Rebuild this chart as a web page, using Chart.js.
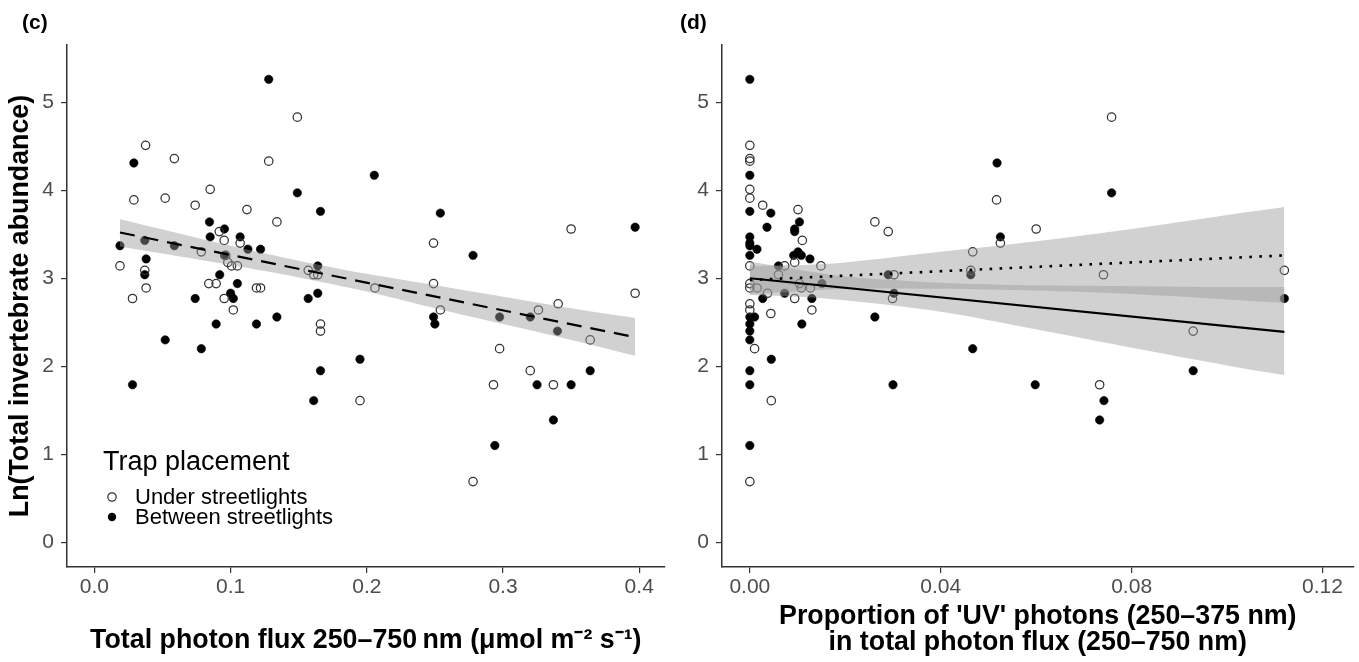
<!DOCTYPE html>
<html><head><meta charset="utf-8">
<script src="https://cdn.jsdelivr.net/npm/chart.js@4.4.1/dist/chart.umd.min.js"></script>
<style>
html,body{margin:0;padding:0;background:#fff;}
#wrap{position:relative;width:1359px;height:662px;overflow:hidden;background:#fff;}
.panel{position:absolute;top:0;height:662px;}
#pc{left:0;width:670px;}
#pd{left:670px;width:689px;}
</style></head><body>
<div id="wrap">
  <div class="panel" id="pc"><canvas id="cc"></canvas></div>
  <div class="panel" id="pd"><canvas id="cd"></canvas></div>
</div>
<script>
// ---------- DATA ----------
// Panel (c): total photon flux vs Ln(abundance)
const cUnderX = [0.149,0.0376,0.0587,0.128,0.085,0.029,0.052,0.074,0.112,0.134,0.0917,0.0953,0.107,0.0785,0.0965,0.098,0.1007,0.105,0.0188,0.037,0.157,0.161,0.164,0.084,0.0894,0.038,0.119,0.122,0.028,0.0953,0.102,0.166,0.166,0.195,0.249,0.206,0.249,0.254,0.326,0.3405,0.397,0.35,0.364,0.2975,0.32,0.293,0.337,0.278];
const cUnderY = [4.83,4.51,4.36,4.33,4.01,3.89,3.91,3.83,3.78,3.64,3.53,3.43,3.40,3.30,3.26,3.18,3.14,3.14,3.14,3.09,3.09,3.04,3.04,2.94,2.94,2.89,2.89,2.89,2.77,2.77,2.64,2.48,2.40,1.61,3.40,2.89,2.94,2.64,2.64,2.71,2.83,3.56,2.30,2.20,1.95,1.79,1.79,0.69];
const cBetweenX = [0.128,0.029,0.149,0.166,0.0845,0.0955,0.085,0.107,0.037,0.0188,0.0587,0.1127,0.122,0.0955,0.038,0.037,0.092,0.164,0.105,0.1,0.164,0.074,0.102,0.157,0.0894,0.119,0.134,0.052,0.0785,0.166,0.028,0.161,0.195,0.2055,0.254,0.278,0.397,0.249,0.25,0.2975,0.32,0.34,0.364,0.325,0.35,0.337,0.294];
const cBetweenY = [5.26,4.31,3.97,3.76,3.64,3.56,3.47,3.47,3.43,3.37,3.37,3.33,3.33,3.26,3.22,3.04,3.04,3.14,2.94,2.83,2.83,2.77,2.77,2.77,2.48,2.48,2.56,2.30,2.20,1.95,1.79,1.61,2.08,4.17,3.74,3.26,3.58,2.56,2.48,2.56,2.56,2.40,1.95,1.79,1.79,1.39,1.10];
const cFitX = [0.0188, 0.397];
const cFitY = [3.52, 2.33];
const cBandX  = [0.0188,0.1,0.15,0.2,0.25,0.3,0.35,0.397];
const cBandLo = [3.36,3.15,3.01,2.85,2.66,2.48,2.30,2.12];
const cBandHi = [3.67,3.37,3.20,3.05,2.92,2.79,2.66,2.55];

// Panel (d): proportion of UV photons vs Ln(abundance)
const dUnderX = [0,0,0,0,0,0.0027,0.0101,0.011,0.0094,0.0073,0.0149,0,0.006,0,0,0.0015,0.0104,0.0108,0.0127,0.0037,0.0094,0.013,0,0,0.0044,0.001,0.0045,0,0.0262,0.029,0.0517,0.0525,0.06,0.0467,0.0302,0.0463,0.0299,0.0758,0.0741,0.112,0.0929,0.0733];
const dUnderY = [4.51,4.36,4.33,4.01,3.91,3.83,3.78,3.43,3.18,3.14,3.14,3.14,3.04,2.94,2.89,2.89,2.94,2.89,2.89,2.83,2.77,2.64,2.71,2.64,2.60,2.20,1.61,0.69,3.64,3.53,3.89,3.40,3.56,3.30,3.04,3.09,2.77,4.83,3.04,3.09,2.40,1.79];
const dBetweenX = [0,0,0,0.0044,0.0104,0.0036,0.0094,0.0094,0,0,0,0.0015,0,0.0092,0.0101,0.0108,0.0126,0.006,0.0151,0.0027,0.0073,0.013,0,0.001,0,0,0,0.0109,0.0045,0,0,0,0.0518,0.0525,0.029,0.0463,0.0302,0.0262,0.0467,0.03,0.0758,0.112,0.0929,0.0598,0.0742,0.0733];
const dBetweenY = [5.26,4.17,3.76,3.74,3.64,3.58,3.56,3.53,3.47,3.40,3.37,3.33,3.26,3.26,3.30,3.26,3.22,3.14,2.94,2.77,2.83,2.77,2.56,2.56,2.48,2.40,2.30,2.48,2.08,1.95,1.79,1.10,4.31,3.47,3.04,3.04,2.83,2.56,2.20,1.79,3.97,2.77,1.95,1.79,1.61,1.39];
const dUnderFitX = [0, 0.112];
const dUnderFitY = [2.98, 3.26];
const dUnderBandX  = [0,0.01,0.02,0.04,0.06,0.08,0.1,0.112];
const dUnderBandLo = [2.82,2.85,2.88,2.88,2.86,2.82,2.76,2.72];
const dUnderBandHi = [3.14,3.15,3.18,3.30,3.42,3.56,3.72,3.81];
const dBetweenFitX = [0, 0.112];
const dBetweenFitY = [3.00, 2.39];
const dBetweenBandX  = [0,0.01,0.02,0.04,0.06,0.08,0.1,0.112];
const dBetweenBandLo = [2.81,2.79,2.75,2.62,2.42,2.21,2.01,1.90];
const dBetweenBandHi = [3.19,3.10,3.02,2.95,2.92,2.91,2.90,2.90];

// Tick labels
const cXTicks = [0, 0.1, 0.2, 0.3, 0.4];
const dXTicks = [0, 0.04, 0.08, 0.12];
const yTicks  = [0, 1, 2, 3, 4, 5];

const legendTitle = 'Trap placement';
const groupNames = ['Under streetlights', 'Between streetlights'];
const yTitle = 'Ln(Total invertebrate abundance)';
const cXTitle = 'Total photon flux 250\u2013750\u2009nm (\u03bcmol m\u207b\u00b2 s\u207b\u00b9)';
const dXTitle = ["Proportion of 'UV' photons (250\u2013375 nm)", 'in total photon flux (250\u2013750 nm)'];

// ---------- RENDERING ----------
const FONT = "'Liberation Sans', Arial, Helvetica, sans-serif";
const pts = (xs, ys) => xs.map((x, i) => ({x: x, y: ys[i]}));
const BAND = 'rgba(153,153,153,0.45)';
const TITLE_SIZE = 26.8;

function openPts(xs, ys) {
  return {type: 'scatter', label: groupNames[0], data: pts(xs, ys), order: 3,
    pointStyle: 'circle', pointRadius: 4.2, pointBorderWidth: 1.25,
    pointBorderColor: '#333', pointBackgroundColor: 'rgba(255,255,255,0)'};
}
function filledPts(xs, ys) {
  return {type: 'scatter', label: groupNames[1], data: pts(xs, ys), order: 3,
    pointStyle: 'circle', pointRadius: 4.2, pointBorderWidth: 0.6,
    pointBorderColor: '#000', pointBackgroundColor: '#000'};
}
function bandPair(xs, lo, hi) {
  return [
    {type: 'line', label: 'band-hi', data: pts(xs, hi), order: 2, borderWidth: 0,
      pointRadius: 0, fill: '+1', backgroundColor: BAND, tension: 0.3},
    {type: 'line', label: 'band-lo', data: pts(xs, lo), order: 2, borderWidth: 0,
      pointRadius: 0, fill: false, tension: 0.3}
  ];
}
function fitLine(xs, ys, dash, width) {
  return {type: 'line', label: 'fit', data: pts(xs, ys), order: 1, borderColor: '#000',
    borderWidth: width, borderDash: dash, borderCapStyle: 'butt', pointRadius: 0, fill: false};
}

const overlay = {
  id: 'overlay',
  afterDraw(chart, args, o) {
    const ctx = chart.ctx;
    const a = chart.chartArea;
    ctx.save();
    ctx.fillStyle = '#000';
    ctx.textBaseline = 'middle';
    ctx.textAlign = 'left';
    ctx.font = 'bold 21px ' + FONT;
    ctx.fillText(o.label, o.labelX, 23);
    if (o.legend) {
      const lx = a.left + 36;
      ctx.font = '27px ' + FONT;
      ctx.fillStyle = '#000';
      ctx.fillText(legendTitle, lx, 463);
      ctx.font = '22px ' + FONT;
      const rows = [{y: 497, fill: false}, {y: 517, fill: true}];
      rows.forEach((r, i) => {
        ctx.beginPath();
        ctx.arc(lx + 9, r.y, 4.2, 0, Math.PI * 2);
        if (r.fill) { ctx.fillStyle = '#000'; ctx.fill(); }
        else { ctx.strokeStyle = '#333'; ctx.lineWidth = 1.25; ctx.stroke(); }
        ctx.fillStyle = '#000';
        ctx.fillText(groupNames[i], lx + 32, r.y + 1);
      });
    }
    ctx.restore();
  }
};

function axisCommon() {
  return {
    grid: {display: true, drawOnChartArea: false, drawTicks: true, tickLength: 6, color: '#333', lineWidth: 1.2},
    border: {display: true, color: '#333', width: 1.5}
  };
}

function makeChart(id, datasets, xMin, xMax, xTicks, xDigits, yWidth, xTitle, yTitleOn, label) {
  const multi = Array.isArray(xTitle);
  const xs = Object.assign(axisCommon(), {
    type: 'linear', min: xMin, max: xMax,
    afterBuildTicks: s => { s.ticks = xTicks.map(v => ({value: v})); },
    afterFit: s => { s.height = 95; },
    ticks: {color: '#4d4d4d', font: {family: FONT, size: 21}, padding: 2,
      callback: v => Number(v).toFixed(xDigits), maxRotation: 0, autoSkip: false},
    title: {display: true, text: xTitle, color: '#000',
      font: {family: FONT, size: TITLE_SIZE, weight: 'bold', lineHeight: multi ? 0.97 : 1.2},
      padding: {top: 0, bottom: multi ? 6 : 5}}
  });
  const ys = Object.assign(axisCommon(), {
    type: 'linear', min: -0.28, max: 5.65,
    afterBuildTicks: s => { s.ticks = yTicks.map(v => ({value: v})); },
    afterFit: s => { s.width = yWidth; },
    ticks: {color: '#4d4d4d', font: {family: FONT, size: 21}, padding: 7,
      callback: v => String(v), autoSkip: false},
    title: {display: yTitleOn, text: yTitle, color: '#000',
      font: {family: FONT, size: TITLE_SIZE, weight: 'bold', lineHeight: 1.2},
      padding: {top: 5, bottom: 0}}
  });
  return new Chart(document.getElementById(id), {
    type: 'scatter',
    data: {datasets: datasets},
    options: {
      responsive: true, maintainAspectRatio: false, animation: false, events: [],
      layout: {padding: {left: 0, right: 2, top: 45, bottom: 0}},
      scales: {x: xs, y: ys},
      plugins: {legend: {display: false}, tooltip: {enabled: false},
        overlay: {label: label.text, labelX: label.x, legend: label.legend}}
    },
    plugins: [overlay]
  });
}

makeChart('cc', [
  openPts(cUnderX, cUnderY),
  filledPts(cBetweenX, cBetweenY),
  ...bandPair(cBandX, cBandLo, cBandHi),
  fitLine(cFitX, cFitY, [15, 9], 2.2)
], -0.0201, 0.4186, cXTicks, 1, 67, cXTitle, true, {text: '(c)', x: 22, legend: true});

makeChart('cd', [
  openPts(dUnderX, dUnderY),
  filledPts(dBetweenX, dBetweenY),
  ...bandPair(dUnderBandX, dUnderBandLo, dUnderBandHi),
  ...bandPair(dBetweenBandX, dBetweenBandLo, dBetweenBandHi),
  fitLine(dUnderFitX, dUnderFitY, [2.6, 7.4], 2.6),
  fitLine(dBetweenFitX, dBetweenFitY, [], 2.2)
], -0.00583, 0.1265, dXTicks, 2, 52, dXTitle, false, {text: '(d)', x: 10, legend: false});
</script>
</body></html>
